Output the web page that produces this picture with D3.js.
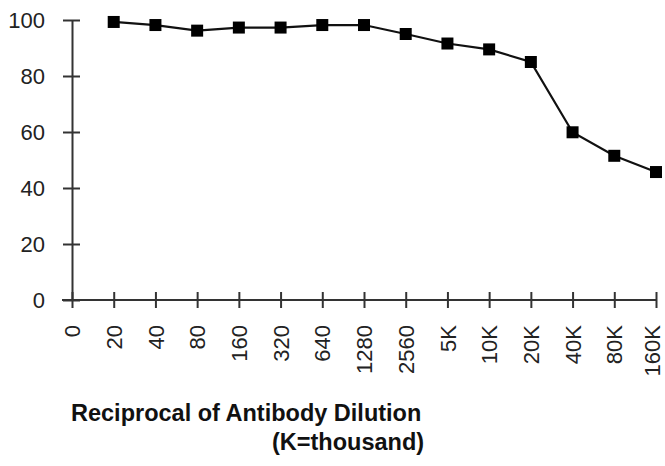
<!DOCTYPE html>
<html>
<head>
<meta charset="utf-8">
<script src="https://cdn.jsdelivr.net/npm/d3@7"></script>
<style>
  body { margin: 0; background: #fff; }
  svg { display: block; font-family: 'Liberation Sans', Arial, sans-serif; }
</style>
</head>
<body>
<div id="chart"></div>
<script>
// dilution categories along the x axis ("0" has no point)
var dilutions = ['0', '20', '40', '80', '160', '320', '640', '1280', '2560', '5K', '10K', '20K', '40K', '80K', '160K'];
// percent values, one for each dilution from 20 on
var pointDilutions = ['20', '40', '80', '160', '320', '640', '1280', '2560', '5K', '10K', '20K', '40K', '80K', '160K'];
var percentValues = [99.3, 98.2, 96.2, 97.3, 97.3, 98.2, 98.2, 95, 91.6, 89.5, 85, 59.9, 51.5, 45.7];
var yTicks = [0, 20, 40, 60, 80, 100];

var width = 665;
var height = 466;

var svg = d3.select('#chart').append('svg')
    .attr('width', width)
    .attr('height', height);

var xScale = d3.scalePoint()
    .domain(dilutions)
    .range([72, 656]);

var yScale = d3.scaleLinear()
    .domain([0, 100])
    .range([300, 20]);

var data = pointDilutions.map((d, i) => ({ dil: d, value: percentValues[i] }));

// y axis
var yAxis = d3.axisLeft(yScale)
    .tickValues(yTicks)
    .tickSizeInner(8)
    .tickSizeOuter(0)
    .tickPadding(8);

var yG = svg.append('g')
    .attr('transform', `translate(${xScale('0')},0)`)
    .call(yAxis);

yG.select('.domain').attr('stroke', '#333').attr('stroke-width', 2);
yG.selectAll('.tick line')
    .attr('x1', 8)
    .attr('x2', -9)
    .attr('stroke', '#333')
    .attr('stroke-width', 2);
yG.selectAll('.tick text')
    .attr('x', -27)
    .attr('font-size', 22)
    .attr('fill', '#222');

// x axis
var xAxis = d3.axisBottom(xScale)
    .tickSizeInner(8)
    .tickSizeOuter(0)
    .tickPadding(8);

var xG = svg.append('g')
    .attr('transform', `translate(0,${yScale(0)})`)
    .call(xAxis);

xG.select('.domain')
    .attr('d', `M${xScale('0') - 10},0H${xScale('160K')}`)
    .attr('stroke', '#333')
    .attr('stroke-width', 2);
xG.selectAll('.tick line')
    .attr('y1', -8)
    .attr('y2', 8)
    .attr('stroke', '#333')
    .attr('stroke-width', 2);
xG.selectAll('.tick text')
    .attr('font-size', 22)
    .attr('fill', '#222')
    .attr('text-anchor', 'end')
    .attr('transform', 'rotate(-90)')
    .attr('x', -25)
    .attr('y', d => d === '160K' ? -4 : 0)
    .attr('dy', '0.35em');

// line
var line = d3.line()
    .x(d => xScale(d.dil))
    .y(d => yScale(d.value));

svg.append('path')
    .datum(data)
    .attr('fill', 'none')
    .attr('stroke', '#111')
    .attr('stroke-width', 2.2)
    .attr('d', line);

var sq = 12;
svg.selectAll('rect.pt')
    .data(data)
    .enter()
    .append('rect')
    .attr('class', 'pt')
    .attr('x', d => xScale(d.dil) - sq / 2)
    .attr('y', d => yScale(d.value) - sq / 2)
    .attr('width', sq)
    .attr('height', sq)
    .attr('fill', '#000');

// axis title
svg.append('text')
    .attr('x', 71)
    .attr('y', 421)
    .attr('font-size', 23.5)
    .attr('font-weight', 'bold')
    .attr('fill', '#111')
    .text('Reciprocal of Antibody Dilution');

svg.append('text')
    .attr('x', 272)
    .attr('y', 450)
    .attr('font-size', 23.5)
    .attr('font-weight', 'bold')
    .attr('fill', '#111')
    .text('(K=thousand)');
</script>
</body>
</html>
